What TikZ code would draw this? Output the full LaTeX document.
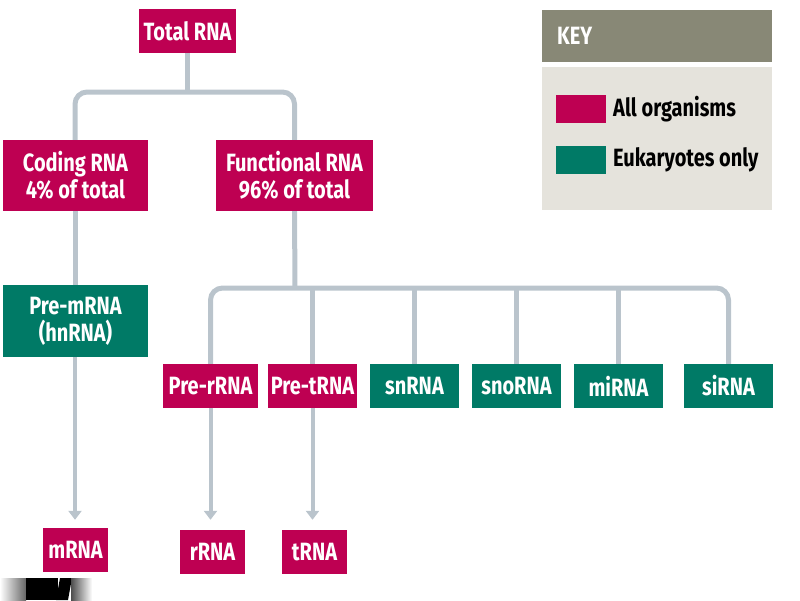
\documentclass[tikz,border=0pt]{standalone}
\usepackage{fontspec}
\setmainfont[FakeStretch=0.8]{Fira Sans}
\usetikzlibrary{arrows.meta}
\definecolor{mag}{RGB}{190,0,82}
\definecolor{teal2}{RGB}{0,122,102}
\definecolor{conn}{RGB}{186,196,204}
\definecolor{keyhead}{RGB}{136,136,118}
\definecolor{keybody}{RGB}{229,227,220}
\tikzset{
  box/.style={inner sep=0pt, text=white, font=\fontsize{25}{27}\selectfont\bfseries, align=center},
  allbox/.style={box, fill=mag},
  eukbox/.style={box, fill=teal2},
  link/.style={draw=conn, line width=5pt, rounded corners=12pt},
  arr/.style={draw=conn, line width=4pt, -{Triangle[width=13pt,length=9pt]}},
  keytext/.style={font=\fontsize{25}{27}\selectfont\bfseries, text=black, anchor=west, inner sep=0pt}
}
\begin{document}
\begin{tikzpicture}[x=1pt,y=-1pt]
\useasboundingbox (0,0) rectangle (800,600);
% nodes
\node[allbox, minimum width=97pt, minimum height=44pt] (total) at (187.5,31) {Total RNA};
\node[allbox, minimum width=145pt, minimum height=71pt] (coding) at (75.5,175.5) {Coding RNA\\4\% of total};
\node[allbox, minimum width=157pt, minimum height=71pt] (func) at (294.5,175.5) {Functional RNA\\96\% of total};
\node[eukbox, minimum width=145pt, minimum height=72pt] (premrna) at (75.5,321) {Pre-mRNA\\(hnRNA)};
\node[allbox, minimum width=95pt, minimum height=44pt] (prer) at (210.5,386) {Pre-rRNA};
\node[allbox, minimum width=89pt, minimum height=44pt] (pret) at (312.5,386) {Pre-tRNA};
\node[eukbox, minimum width=89pt, minimum height=44pt] (sn) at (414.5,386) {snRNA};
\node[eukbox, minimum width=89pt, minimum height=44pt] (sno) at (516.5,386) {snoRNA};
\node[eukbox, minimum width=89pt, minimum height=44pt] (mi) at (618.5,386) {miRNA};
\node[eukbox, minimum width=89pt, minimum height=44pt] (si) at (728.5,386) {siRNA};
\node[allbox, minimum width=65pt, minimum height=44pt] (mrna) at (75.5,550) {mRNA};
\node[allbox, minimum width=65pt, minimum height=44pt] (rrna) at (212.5,552) {rRNA};
\node[allbox, minimum width=65pt, minimum height=44pt] (trna) at (314.5,552) {tRNA};
% connectors
\coordinate (b1) at (187.5,92);
\draw[link] (total.south) -- (b1);
\draw[link] (coding.north -| 75,0) |- (b1) -| (func.north);
\coordinate (b2) at (295,288);
\draw[link] (func.south) -- (b2);
\draw[link] (prer.north) |- (b2) -| (si.north);
\draw[link] (pret.north) -- (pret.north |- b2);
\draw[link] (sn.north) -- (sn.north |- b2);
\draw[link] (sno.north) -- (sno.north |- b2);
\draw[link] (mi.north) -- (mi.north |- b2);
\draw[link] (coding.south -| 75,0) -- (premrna.north -| 75,0);
\draw[arr] (premrna.south -| 75,0) -- ([yshift=8pt]mrna.north -| 75,0);
\draw[arr] (prer.south) -- ([yshift=10pt]prer.south |- rrna.north);
\draw[arr] (pret.south) -- ([yshift=10pt]pret.south |- trna.north);
% key
\node[fill=keyhead, minimum width=230pt, minimum height=52pt, inner sep=0pt, anchor=north west] (keyh) at (542,10) {};
\node[text=white, font=\fontsize{25}{27}\selectfont\bfseries, anchor=west, inner sep=0pt] (keyt) at (557,36) {KEY};
\node[fill=keybody, minimum width=230pt, minimum height=143pt, inner sep=0pt, anchor=north west] (keyb) at (542,67) {};
\node[fill=mag, minimum width=50pt, minimum height=28pt, inner sep=0pt] (swa) at (581,109) {};
\node[fill=teal2, minimum width=50pt, minimum height=28pt, inner sep=0pt] (swe) at (581,160) {};
\node[keytext] (ta) at (613,109) {All organisms};
\node[keytext] (te) at (613,160) {Eukaryotes only};
% artifact bottom left
\shade[left color=white, right color=black!60] (0,578) rectangle (26,600);
\fill[black] (26,578) rectangle (58,600);
\fill[black] (60,578) -- (72,578) -- (68,600) -- (56,600) -- cycle;
\shade[left color=black!70, right color=white] (71,578) rectangle (92,600);
\end{tikzpicture}
\end{document}
